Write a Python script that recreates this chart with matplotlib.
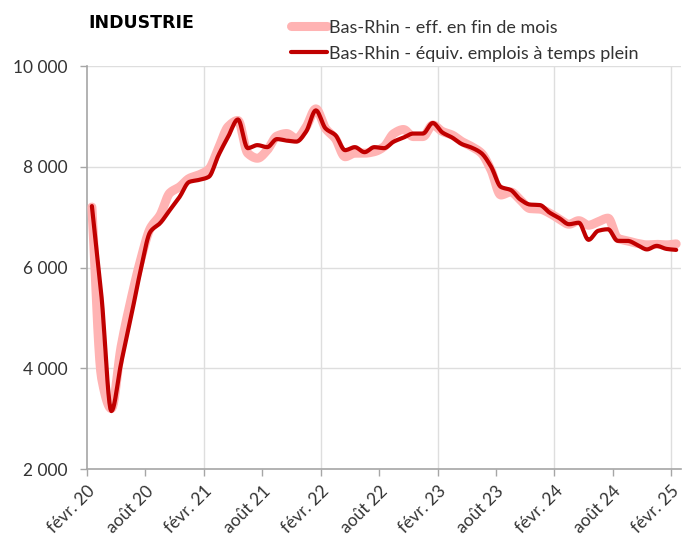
import matplotlib
matplotlib.use("Agg")
import matplotlib.pyplot as plt
import numpy as np

# monthly values, févr. 2020 -> févr. 2025
eff_fin_mois = [7200, 3800, 3200, 4430, 5350, 6150, 6780, 7040, 7480, 7600,
                7770, 7840, 7950, 8370, 8800, 8920, 8270, 8170, 8330, 8610,
                8660, 8560, 8790, 9150, 8760, 8560, 8200, 8270, 8270, 8300,
                8400, 8660, 8740, 8600, 8600, 8830, 8700, 8630, 8500, 8400,
                8270, 7930, 7440, 7500, 7340, 7170, 7160, 7080, 6960, 6860,
                6930, 6840, 6910, 6980, 6580, 6530, 6480, 6450, 6460, 6450,
                6470]
equiv_etp = [7220, 5400, 3150, 4100, 5000, 5940, 6710, 6880, 7140, 7400,
             7700, 7740, 7800, 8230, 8600, 8940, 8370, 8430, 8390, 8550,
             8520, 8500, 8700, 9120, 8760, 8630, 8330, 8390, 8290, 8390,
             8370, 8500, 8580, 8660, 8660, 8870, 8680, 8580, 8450, 8380,
             8270, 8000, 7600, 7540, 7350, 7250, 7240, 7090, 6980, 6860,
             6890, 6550, 6730, 6760, 6530, 6530, 6450, 6360, 6430, 6370,
             6350]
tick_labels = ["févr. 20", "août 20", "févr. 21", "août 21", "févr. 22",
               "août 22", "févr. 23", "août 23", "févr. 24", "août 24",
               "févr. 25"]
y_ticks = [2000, 4000, 6000, 8000, 10000]
y_labels = ["2 000", "4 000", "6 000", "8 000", "10 000"]


def smooth(y, n=10):
    # monotone hermite curve through the points (no overshoot)
    y = np.asarray(y, dtype=float)
    d = np.diff(y)
    m = np.zeros_like(y)
    m[0], m[-1] = d[0], d[-1]
    for i in range(1, len(y) - 1):
        a, b = d[i - 1], d[i]
        if a * b > 0:
            m[i] = 2 * a * b / (a + b)
    xs, ys = [], []
    t = np.linspace(0, 1, n, endpoint=False)
    h00 = 2 * t**3 - 3 * t**2 + 1
    h10 = t**3 - 2 * t**2 + t
    h01 = -2 * t**3 + 3 * t**2
    h11 = t**3 - t**2
    for i in range(len(y) - 1):
        ys.append(h00 * y[i] + h10 * m[i] + h01 * y[i + 1] + h11 * m[i + 1])
        xs.append(i + t)
    xs.append([len(y) - 1])
    ys.append([y[-1]])
    return np.concatenate(xs), np.concatenate(ys)


plt.rcParams['font.family'] = ['Lato', 'DejaVu Sans']

fig = plt.figure(figsize=(6.82, 5.37), dpi=100)
ax = fig.add_axes([0.1276, 0.1266, 0.8710, 0.7504])

sx, sy = smooth(eff_fin_mois)
ax.plot(sx, sy, color="#FFB3B3", lw=6.5, solid_joinstyle="round",
        solid_capstyle="round", label="Bas-Rhin - eff. en fin de mois", zorder=3)
sx, sy = smooth(equiv_etp)
ax.plot(sx, sy, color="#C00000", lw=3, solid_joinstyle="round",
        solid_capstyle="round", label="Bas-Rhin - équiv. emplois à temps plein", zorder=4)

n = len(equiv_etp)
ax.set_xlim(-0.5, n - 0.5)
ax.set_ylim(2000, 10000)

tick_pos = np.arange(0, n, 6) - 0.5
ax.set_xticks(tick_pos)
ax.set_xticklabels(tick_labels, rotation=45, ha="right", va="top",
                   rotation_mode="anchor", fontsize=12.5, color="#333333")
ax.set_yticks(y_ticks)
ax.set_yticklabels(y_labels, fontsize=12.5, color="#333333")
ax.tick_params(axis="both", length=5, width=1, color="#a6a6a6")
ax.tick_params(axis="y", pad=9)
ax.tick_params(axis="x", pad=5)

for g in tick_pos[2::2]:
    ax.axvline(g, color="#dedede", lw=1, zorder=1)
for v in y_ticks[1:]:
    ax.axhline(v, color="#dedede", lw=1, zorder=1)

for s in ["top", "right"]:
    ax.spines[s].set_visible(False)
for s in ["left", "bottom"]:
    ax.spines[s].set_color("#a6a6a6")
    ax.spines[s].set_linewidth(1.2)

fig.text(0.129, 0.957, "INDUSTRIE", fontsize=12.5, fontweight="heavy",
         family="DejaVu Sans", color="black", va="center")

fig.legend(loc="upper left", bbox_to_anchor=(0.405, 0.99), frameon=False,
           fontsize=13, handlelength=2.0, handletextpad=0.1,
           labelspacing=0.55, borderpad=0.3, labelcolor="#333333")

fig.savefig("out.png", dpi=100)
